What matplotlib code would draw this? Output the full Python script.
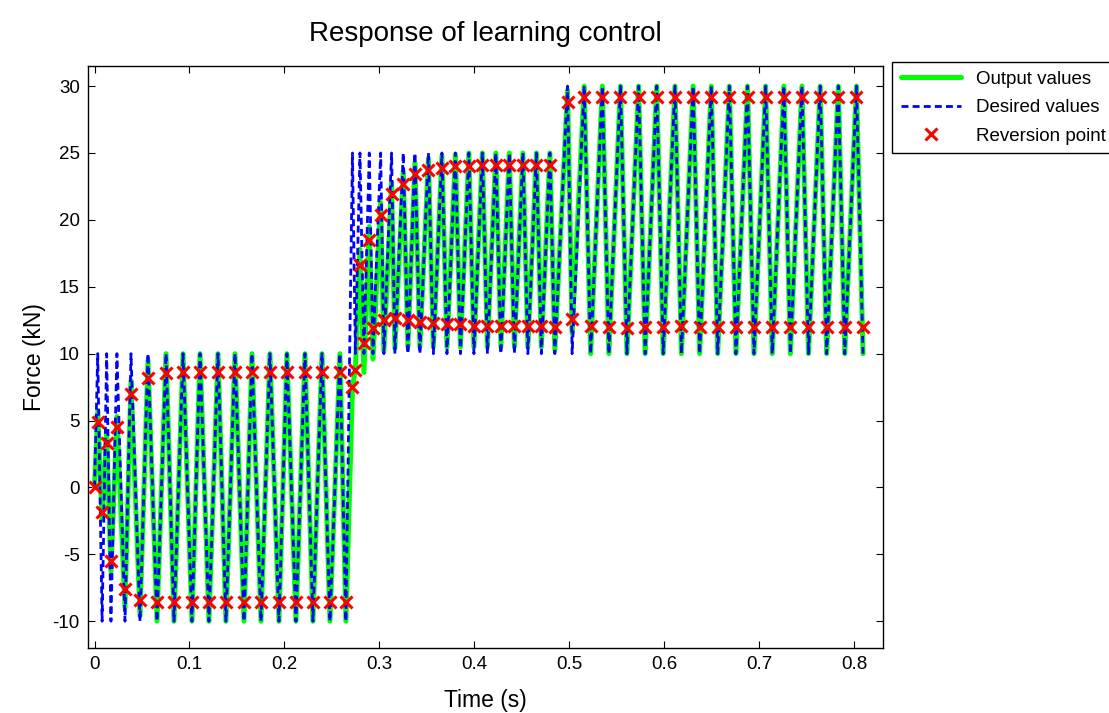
import numpy as np
import matplotlib
matplotlib.use("Agg")
import matplotlib.pyplot as plt

plt.rcParams['font.family'] = ['Liberation Sans', 'DejaVu Sans']
plt.rcParams['lines.scale_dashes'] = False
plt.rcParams['axes.unicode_minus'] = False

# turning instants (s), shared by the three series
t_turn = [
    # -10 .. 10 kN
    0.0000, 0.0034, 0.0080, 0.0128, 0.0173, 0.0236, 0.0321, 0.0384,
    0.0479, 0.0563, 0.0658, 0.0753, 0.0837, 0.0932, 0.1026, 0.1111,
    0.1205, 0.1300, 0.1384, 0.1479, 0.1574, 0.1658, 0.1753, 0.1847,
    0.1942, 0.2026, 0.2121, 0.2216, 0.2300, 0.2395, 0.2479, 0.2584,
    0.2647,
    # 10 .. 25 kN
    0.2716, 0.2747, 0.2795, 0.2837, 0.2893, 0.2932, 0.3013, 0.3047,
    0.3128, 0.3163, 0.3251, 0.3300, 0.3374, 0.3426, 0.3516, 0.3568,
    0.3658, 0.3711, 0.3800, 0.3853, 0.3942, 0.3995, 0.4084, 0.4137,
    0.4226, 0.4279, 0.4368, 0.4421, 0.4511, 0.4563, 0.4653, 0.4705,
    0.4795, 0.4847,
    # 10 .. 30 kN
    0.4981, 0.5029, 0.5156, 0.5224, 0.5347, 0.5416, 0.5538, 0.5606,
    0.5729, 0.5798, 0.5920, 0.5988, 0.6112, 0.6180, 0.6303, 0.6372,
    0.6494, 0.6562, 0.6685, 0.6754, 0.6876, 0.6944, 0.7067, 0.7136,
    0.7259, 0.7327, 0.7449, 0.7518, 0.7641, 0.7709, 0.7832, 0.7900,
    0.8023, 0.8092,
]

# desired force at the turning instants (kN)
f_des = [
    0, 10, -10, 10, -10, 10, -10, 10,
    -10, 10, -10, 10, -10, 10, -10, 10,
    -10, 10, -10, 10, -10, 10, -10, 10,
    -10, 10, -10, 10, -10, 10, -10, 10,
    -10,
    25, 10, 25, 10, 25, 10, 25, 10,
    25, 10, 25, 10, 25, 10, 25, 10,
    25, 10, 25, 10, 25, 10, 25, 10,
    25, 10, 25, 10, 25, 10, 25, 10,
    25, 10,
    30, 10, 30, 10, 30, 10, 30, 10,
    30, 10, 30, 10, 30, 10, 30, 10,
    30, 10, 30, 10, 30, 10, 30, 10,
    30, 10, 30, 10, 30, 10, 30, 10,
    30, 10,
]

# measured output force (kN)
f_out = [
    0.0, 5.7, -2.4, 4.0, -6.3, 5.3, -9.0, 8.0,
    -9.6, 9.5, -10, 10, -10, 10, -10, 10,
    -10, 10, -10, 10, -10, 10, -10, 10,
    -10, 10, -10, 10, -10, 10, -10, 10,
    -10,
    7.5, 8.8, 17.8, 8.6, 19.5, 9.6, 21.3, 10.2,
    22.8, 10.4, 23.6, 10.5, 24.3, 10.5, 24.6, 10.5,
    24.8, 10.5, 24.9, 10.5, 25.0, 10.5, 25.0, 10.5,
    25.0, 10.5, 25.0, 10.5, 25.0, 10.5, 25.0, 10.5,
    25.0, 10.3,
    29.7, 11.5, 30, 10, 30, 10, 30, 10,
    30, 10, 30, 10, 30, 10, 30, 10,
    30, 10, 30, 10, 30, 10, 30, 10,
    30, 10, 30, 10, 30, 10, 30, 10,
    30, 10,
]

# reversion points (kN)
f_rev = [
    0.0, 4.9, -1.8, 3.3, -5.5, 4.55, -7.6, 6.95,
    -8.4, 8.2, -8.6, 8.55, -8.6, 8.6, -8.6, 8.6,
    -8.6, 8.6, -8.6, 8.6, -8.6, 8.6, -8.6, 8.6,
    -8.6, 8.6, -8.6, 8.6, -8.6, 8.6, -8.6, 8.6,
    -8.6,
    7.5, 8.8, 16.6, 10.8, 18.5, 11.9, 20.4, 12.5,
    21.9, 12.7, 22.7, 12.5, 23.4, 12.4, 23.7, 12.3,
    23.9, 12.2, 24.0, 12.2, 24.0, 12.1, 24.1, 12.1,
    24.1, 12.1, 24.1, 12.1, 24.1, 12.1, 24.1, 12.1,
    24.1, 12.0,
    28.8, 12.6, 29.2, 12.1, 29.2, 12.0, 29.2, 11.9,
    29.2, 12.0, 29.2, 12.0, 29.2, 12.1, 29.2, 12.0,
    29.2, 12.0, 29.2, 12.0, 29.2, 12.0, 29.2, 12.0,
    29.2, 12.0, 29.2, 12.0, 29.2, 12.0, 29.2, 12.0,
    29.2, 12.0,
]

x_ticks = [0, 0.1, 0.2, 0.3, 0.4, 0.5, 0.6, 0.7, 0.8]
x_tick_labels = ['0', '0.1', '0.2', '0.3', '0.4', '0.5', '0.6', '0.7', '0.8']
y_ticks = [-10, -5, 0, 5, 10, 15, 20, 25, 30]

fig = plt.figure(figsize=(11.09, 7.13), dpi=100)
ax = fig.add_axes([0.0794, 0.0912, 0.7166, 0.8162])

ax.plot(t_turn, f_out, color=(0, 1, 0), lw=3.6, solid_joinstyle='round',
        solid_capstyle='round', label='Output values', zorder=2)
ax.plot(t_turn, f_des, color=(0, 0, 1), lw=2.0, ls='--', dashes=(5, 3),
        label='Desired values', zorder=3)
ax.plot(t_turn, f_rev, 'x', color=(1, 0, 0), ms=8, mew=2.2,
        label='Reversion point', zorder=4)

ax.set_xlim(-0.0068, 0.83)
ax.set_ylim(-12, 31.5)
ax.set_xticks(x_ticks)
ax.set_xticklabels(x_tick_labels)
ax.set_yticks(y_ticks)
ax.tick_params(direction='in', top=True, right=True, length=5, width=0.8,
               labelsize=13.5, pad=6)
for s in ax.spines.values():
    s.set_linewidth(1.0)

ax.set_title('Response of learning control', fontsize=20, pad=18)
ax.set_xlabel('Time (s)', fontsize=16.5, labelpad=11)
ax.set_ylabel('Force (kN)', fontsize=16.5, labelpad=5)

leg = ax.legend(loc='upper left', bbox_to_anchor=(1.012, 1.007), fontsize=13.5,
                fancybox=False, framealpha=1, edgecolor='black', borderaxespad=0,
                handlelength=3.2, borderpad=0.45, labelspacing=0.62)
leg.get_frame().set_linewidth(1.0)

fig.savefig('out.png', dpi=100)
